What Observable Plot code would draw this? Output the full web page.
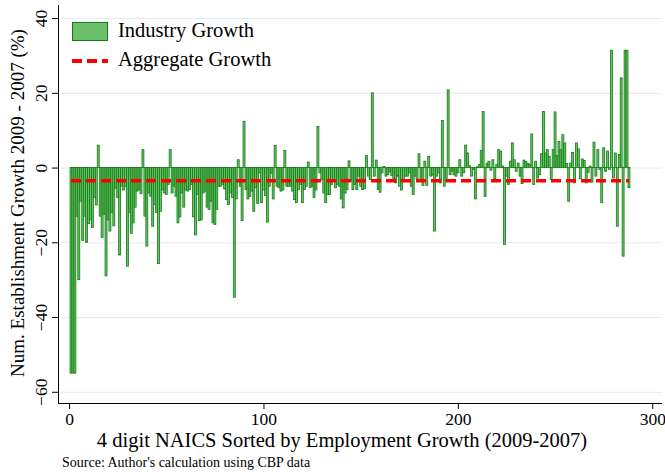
<!DOCTYPE html>
<html><head><meta charset="utf-8">
<script src="https://cdn.jsdelivr.net/npm/d3@7"></script>
<script src="https://cdn.jsdelivr.net/npm/@observablehq/plot@0.6"></script>
<style>
body{margin:0;background:#fff;}
#wrap{position:relative;width:665px;height:472px;font-family:"Liberation Serif","Times New Roman",serif;color:#000;overflow:hidden;}
#chart{position:absolute;left:0;top:0;}
.ytitle{position:absolute;left:18px;top:203px;transform:translate(-50%,-50%) rotate(-90deg);white-space:nowrap;font-size:19px;}
.xtitle{position:absolute;left:342px;top:440px;transform:translate(-50%,-50%);white-space:nowrap;font-size:20.5px;}
.caption{position:absolute;left:62px;top:455px;font-size:14px;white-space:nowrap;}
.legend{position:absolute;left:70px;top:20px;font-size:20.5px;}
.legend .row{position:relative;height:29px;}
.legend svg{position:absolute;left:0;top:0;}
.legend span{position:absolute;left:48px;top:-1px;white-space:nowrap;}
</style></head><body>
<div id="wrap">
  <div id="chart"></div>
  <div class="ytitle">Num. Establishment Growth 2009 - 2007 (%)</div>
  <div class="xtitle">4 digit NAICS Sorted by Employment Growth (2009-2007)</div>
  <div class="caption">Source: Author's calculation using CBP data</div>
  <div class="legend">
    <div class="row"><svg width="40" height="24"><rect x="2.5" y="2.5" width="35" height="18" fill="#6cc16c" stroke="#0f7d0f" stroke-width="1"/></svg><span>Industry Growth</span></div>
    <div class="row"><svg width="40" height="24"><line x1="2" x2="38" y1="12" y2="12" stroke="#ff0000" stroke-width="4" stroke-dasharray="10,5"/></svg><span>Aggregate Growth</span></div>
  </div>
</div>
<script>
// Industry growth (%) for each 4-digit NAICS industry, sorted by employment growth
const growth = [
 -55,-55,-55,-13,-30,-9,-19.5,-13,-20,-15,-14,-16,-8,-10,6,-13,-18.7,-12.5,-29,-14,-17,-12,-15.6,
 -5.5,-8,-23.4,-5,-6,-5,-26.4,-12,-17.6,-14.8,-10.6,-6.3,-6,-7,4.8,-13,-21,-6.8,-7.7,-15.7,-9.9,-12,-25.7,-11.7,-6,
 -6.8,-7.2,-4.5,4.8,-6.8,-5,-7.7,-14.8,-13.2,-6.8,-10.6,-6,-6.3,-5.9,-4.5,-13.2,-18,-7.2,-14.2,-14,-6.8,-6.3,-10.6,-11.2,-9,
 -14.8,-15.2,-11.2,-5,-5,-4.5,-5.7,-8.6,-9.9,-6.8,-8,-34.7,-8.4,2.1,-5,-14.2,12.4,-5.9,-8.4,-7.7,-6.3,-11.7,-5.4,-9.6,-1.4,
 -9.4,-6,-7.5,-14.6,-5,-1.5,-8.4,5.9,-5,-5.4,-6.3,-6,4.6,-5,-5,-5,-6.3,-8.6,-9.4,-5.9,-4.5,-9.4,-5.9,-5,1.5,
 -5.4,-5,-8,-6,11,-1.4,-3.3,-6.8,-9.4,-7.2,-7.2,-4.5,-3.6,-5.4,-4.5,-5,-8.4,-10.8,-6.8,-5.9,1.8,-3.6,-5.9,-4.5,
 -5.9,-2.3,-5,-5.9,-5.7,3.2,-2.3,-3.2,20,-2.3,2,-5.9,-6.6,-1.4,0.3,-2.3,-1.9,-1.2,-2.1,-3.2,-4.1,-2.3,-5,-6,
 -3.2,-2.3,-2.3,-1.4,-5,-7.2,-2.3,-3.2,3.7,-3.2,-4.8,1.7,-4.8,3,-2.3,-2,-17,-2.3,-1.4,-4.1,12.6,-5,-3.6,20.8,-1.9,
 -1,-1.9,-2.3,-1.4,2.1,-2.3,-1.4,6,3.9,0.5,-2.3,-0.5,-8.4,0.2,0.8,4.6,15,-7.7,1.2,1.7,-0.7,2.1,-3,0.8,4.8,
 4.4,0.4,-20.6,-2.3,-4.5,1.7,6.6,2.1,-1,1.2,-2.3,-4.3,2,1.6,1.1,0.8,9,-4.5,1.7,-2.8,-1.9,3.7,15,3.9,4.8,
 3,-3.2,4.8,14.9,3.2,7,4.8,8.8,6.6,1.1,-9,1.2,4.1,-4.1,6.6,5,-3,2.3,1.9,-4.1,-1.3,0.4,-3.9,6.8,
 -2.3,4.8,-0.5,-9.4,5.3,-1,4.4,-0.5,31.4,-2.8,3.9,-15.7,3.5,24,-23.7,31.4,31.4,-5.4
];
const aggregateGrowth = -3.4;
const yTicks = [-60, -40, -20, 0, 20, 40];
const xTicks = [0, 100, 200, 300];
const xDomain = [-5.7, 305];
const yDomain = [-63, 43.5];

const data = growth.map((v, k) => ({rank: k + 1, v}));

const chart = Plot.plot({
  width: 665, height: 452,
  marginLeft: 58, marginRight: 3, marginTop: 5, marginBottom: 49,
  style: {fontFamily: "Liberation Serif, Times New Roman, serif", fontSize: "17px", background: "white", color: "black", overflow: "visible"},
  x: {domain: xDomain},
  y: {domain: yDomain},
  marks: [
    Plot.gridY(yTicks, {stroke: "#e3ebee", strokeOpacity: 1, strokeWidth: 1}),
    Plot.rect(data, {x1: d => d.rank - 0.5, x2: d => d.rank + 0.5, y1: 0, y2: "v", fill: "#6cc16c", stroke: "#0f7d0f", strokeWidth: 0.8}),
    Plot.ruleY([aggregateGrowth], {x1: 1, x2: growth.length, stroke: "#ff0000", strokeWidth: 3.5, strokeDasharray: "10,5"}),
    Plot.axisY(yTicks, {tickSize: 6, tickRotate: -90, tickPadding: 6, label: null, fontSize: 17.5}),
    Plot.axisX(xTicks, {tickSize: 6, tickPadding: 3, label: null, fontSize: 17.5}),
    Plot.ruleX([xDomain[0]], {stroke: "black"}),
    Plot.ruleY([yDomain[0]], {stroke: "black"})
  ]
});
document.getElementById("chart").appendChild(chart);
</script>
</body></html>
